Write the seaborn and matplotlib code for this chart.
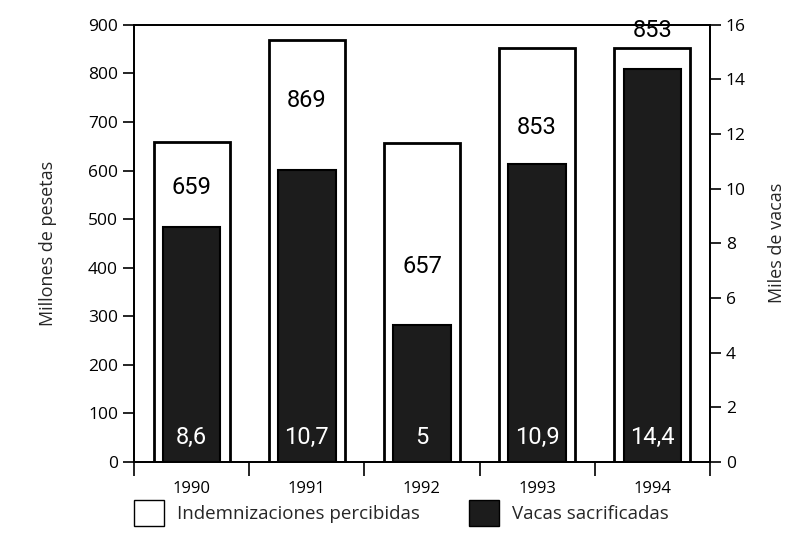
import matplotlib
matplotlib.use('Agg')
import matplotlib.pyplot as plt
import seaborn as sns
import pandas as pd
from matplotlib.patches import Patch

# datos
years = ['1990', '1991', '1992', '1993', '1994']
indemnizaciones = [659, 869, 657, 853, 853]      # millones de pesetas
vacas = [8.6, 10.7, 5.0, 10.9, 14.4]             # miles de vacas
indem_labels = ['659', '869', '657', '853', '853']
vacas_labels = ['8,6', '10,7', '5', '10,9', '14,4']
indem_label_y = [564, 745, 402, 688, 888]         # donde va el texto (escala izq.)

sns.set_theme(style='white')
plt.rcParams['font.family'] = ['Open Sans', 'DejaVu Sans']

df = pd.DataFrame({'year': years, 'indem': indemnizaciones, 'vacas': vacas})

fig = plt.figure(figsize=(7.9, 5.39), dpi=100)
ax = fig.add_axes([0.1696, 0.143, 0.729, 0.811])

sns.barplot(data=df, x='year', y='indem', ax=ax, color='white',
            edgecolor='black', linewidth=2, width=0.66, saturation=1)
ax.set_ylim(0, 900)
ax.set_xlim(-0.5, 4.5)

ax2 = ax.twinx()
sns.barplot(data=df, x='year', y='vacas', ax=ax2, color='#1c1c1c',
            edgecolor='black', linewidth=1.5, width=0.5, saturation=1)
ax2.set_ylim(0, 16)
ax2.set_xlim(-0.5, 4.5)

num_font = ['Roboto', 'DejaVu Sans']
for i in range(len(years)):
    ax.text(i, indem_label_y[i], indem_labels[i], ha='center', va='center',
            fontsize=17, family=num_font, color='black')
    ax2.text(i, 0.9, vacas_labels[i], ha='center', va='center',
             fontsize=17, family=num_font, color='white', zorder=5)

# ejes
for a in (ax, ax2):
    for s in a.spines.values():
        s.set_color('black')
        s.set_linewidth(1.3)

ax.set_yticks(range(0, 901, 100))
ax.tick_params(axis='y', which='major', direction='out', length=8, width=1.2,
               labelsize=12.5, colors='black', left=True)
ax2.set_yticks(range(0, 17, 2))
ax2.tick_params(axis='y', which='major', direction='out', length=8, width=1.2,
                labelsize=12.5, colors='black', right=True)

ax.set_xticks(range(len(years)))
ax.set_xticklabels(years)
ax.set_xticks([-0.5, 0.5, 1.5, 2.5, 3.5, 4.5], minor=True)
ax.tick_params(axis='x', which='major', length=0, labelsize=12, pad=14, colors='black')
ax.tick_params(axis='x', which='minor', direction='out', length=10, width=1.2,
               bottom=True, colors='black')
ax2.tick_params(axis='x', bottom=False, labelbottom=False)

ax.set_xlabel('')
ax.set_ylabel('Millones de pesetas', fontsize=13, labelpad=22)
ax2.set_ylabel('Miles de vacas', fontsize=13, labelpad=16)

handles = [Patch(facecolor='white', edgecolor='black', linewidth=1),
           Patch(facecolor='#1c1c1c', edgecolor='black', linewidth=1)]
fig.legend(handles, ['Indemnizaciones percibidas', 'Vacas sacrificadas'],
           loc='lower left', bbox_to_anchor=(0.148, -0.008), ncol=2, frameon=False,
           fontsize=13.5, handlelength=1.6, handleheight=1.8, columnspacing=2.6,
           handletextpad=0.7)

fig.savefig('out.png', dpi=100)
